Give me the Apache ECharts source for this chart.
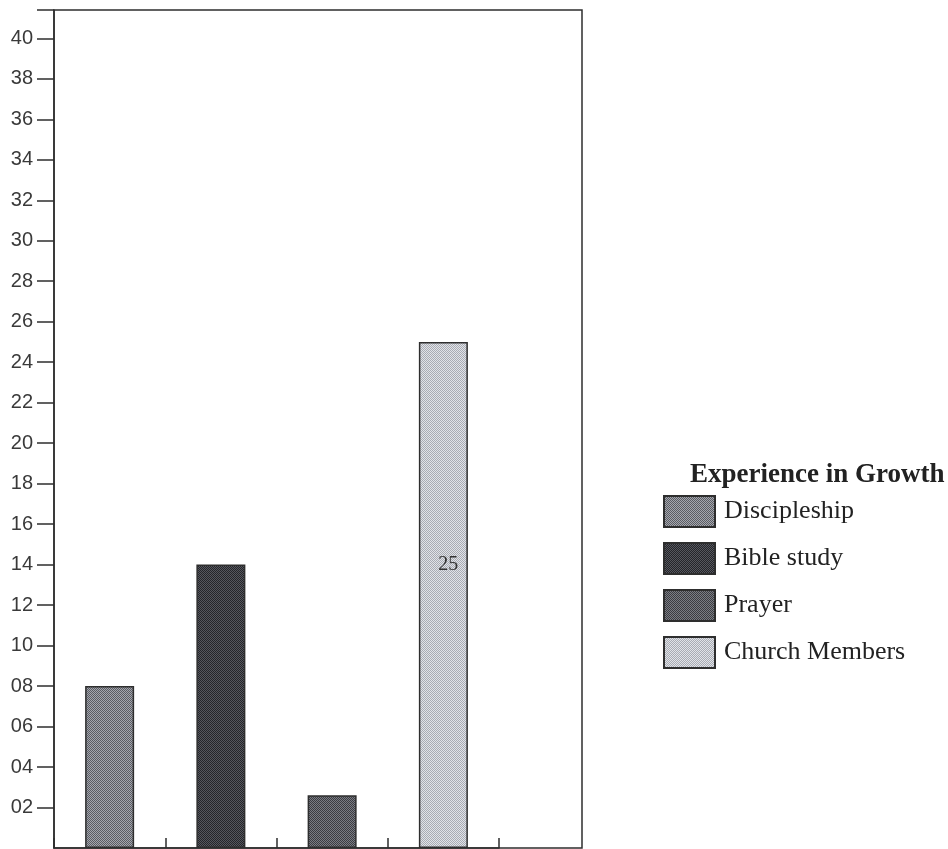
<!DOCTYPE html>
<html>
<head>
<meta charset="utf-8">
<script src="https://cdn.jsdelivr.net/npm/echarts@6/dist/echarts.min.js"></script>
<style>
  html, body { margin: 0; padding: 0; background: #fff; }
  #chart { width: 948px; height: 849px; }
</style>
</head>
<body>
<div id="chart"></div>
<script>
// Responses per growth experience
const categories = ['Discipleship', 'Bible study', 'Prayer', 'Church Members'];
const values = [8, 14, 2.6, 25];
const legendTitle = 'Experience in Growth';
const yTickLabels = ['02', '04', '06', '08', '10', '12', '14', '16', '18', '20',
                     '22', '24', '26', '28', '30', '32', '34', '36', '38', '40'];
const yMax = 41.4;

// Two-tone dithered fills, one per series
const tones = [
  ['#5a5c63', '#a5a7ae'],
  ['#24252a', '#56575d'],
  ['#3b3c42', '#7b7d83'],
  ['#a8abb3', '#e1e3e8']
];

function dither(a, b) {
  const c = document.createElement('canvas');
  c.width = 2; c.height = 2;
  const g = c.getContext('2d');
  g.fillStyle = a; g.fillRect(0, 0, 2, 2);
  g.fillStyle = b; g.fillRect(1, 0, 1, 1); g.fillRect(0, 1, 1, 1);
  return { image: c, repeat: 'repeat' };
}

const ink = '#2e2e2e';
const tickValues = yTickLabels.map(Number);

const chart = echarts.init(document.getElementById('chart'), null, { renderer: 'canvas' });

chart.setOption({
  animation: false,
  backgroundColor: '#fff',
  title: {
    text: legendTitle,
    left: 690,
    top: 462,
    padding: 0,
    textStyle: { fontFamily: 'Liberation Serif', fontWeight: 'bold', fontSize: 27, color: '#222' }
  },
  legend: {
    data: categories,
    orient: 'vertical',
    left: 663,
    top: 495,
    padding: 0,
    itemWidth: 51,
    itemHeight: 31,
    itemGap: 14,
    icon: 'rect',
    selectedMode: false,
    textStyle: { fontFamily: 'Liberation Serif', fontSize: 26, color: '#222', padding: [0, 0, 0, 4] }
  },
  grid: [
    // plotting area for the bars
    { left: 54, top: 10, width: 445, height: 838 },
    // outer frame of the chart box
    { left: 54, top: 10, width: 528, height: 838, show: true, borderColor: ink, borderWidth: 1.5, backgroundColor: 'transparent' }
  ],
  xAxis: [
    {
      type: 'category',
      gridIndex: 0,
      data: categories,
      axisLine: { show: true, lineStyle: { color: ink, width: 1.5 } },
      axisTick: { show: true, inside: true, length: 10, interval: 0, lineStyle: { color: ink, width: 1.5 } },
      axisLabel: { show: false },
      splitLine: { show: false }
    },
    { type: 'category', gridIndex: 1, data: categories, show: false }
  ],
  yAxis: [
    {
      type: 'value',
      gridIndex: 0,
      min: 0,
      max: yMax,
      interval: 2,
      axisLine: { show: true, lineStyle: { color: ink, width: 1.5 } },
      axisTick: {
        show: true,
        length: 17,
        customValues: tickValues.concat([yMax]),
        lineStyle: { color: ink, width: 1.5 }
      },
      splitLine: { show: false },
      axisLabel: {
        margin: 21,
        fontFamily: 'Liberation Sans',
        fontSize: 20,
        color: '#3a3a3a',
        customValues: tickValues,
        formatter: function (v) {
          const idx = tickValues.indexOf(v);
          return idx >= 0 ? yTickLabels[idx] : '';
        }
      }
    },
    { type: 'value', gridIndex: 1, min: 0, max: yMax, show: false }
  ],
  series: categories.map(function (name, i) {
    return {
      name: name,
      type: 'bar',
      xAxisIndex: 0,
      yAxisIndex: 0,
      data: categories.map(function (_, j) { return j === i ? values[i] : '-'; }),
      barWidth: 49,
      barGap: '-100%',
      itemStyle: { color: dither(tones[i][0], tones[i][1]), borderColor: ink, borderWidth: 1.5 },
      label: i === 3 ? {
        show: true,
        position: ['60%', '44%'],
        align: 'center',
        verticalAlign: 'middle',
        formatter: '{c}',
        fontFamily: 'Liberation Serif',
        fontSize: 20,
        color: '#333'
      } : { show: false }
    };
  })
});
</script>
</body>
</html>
